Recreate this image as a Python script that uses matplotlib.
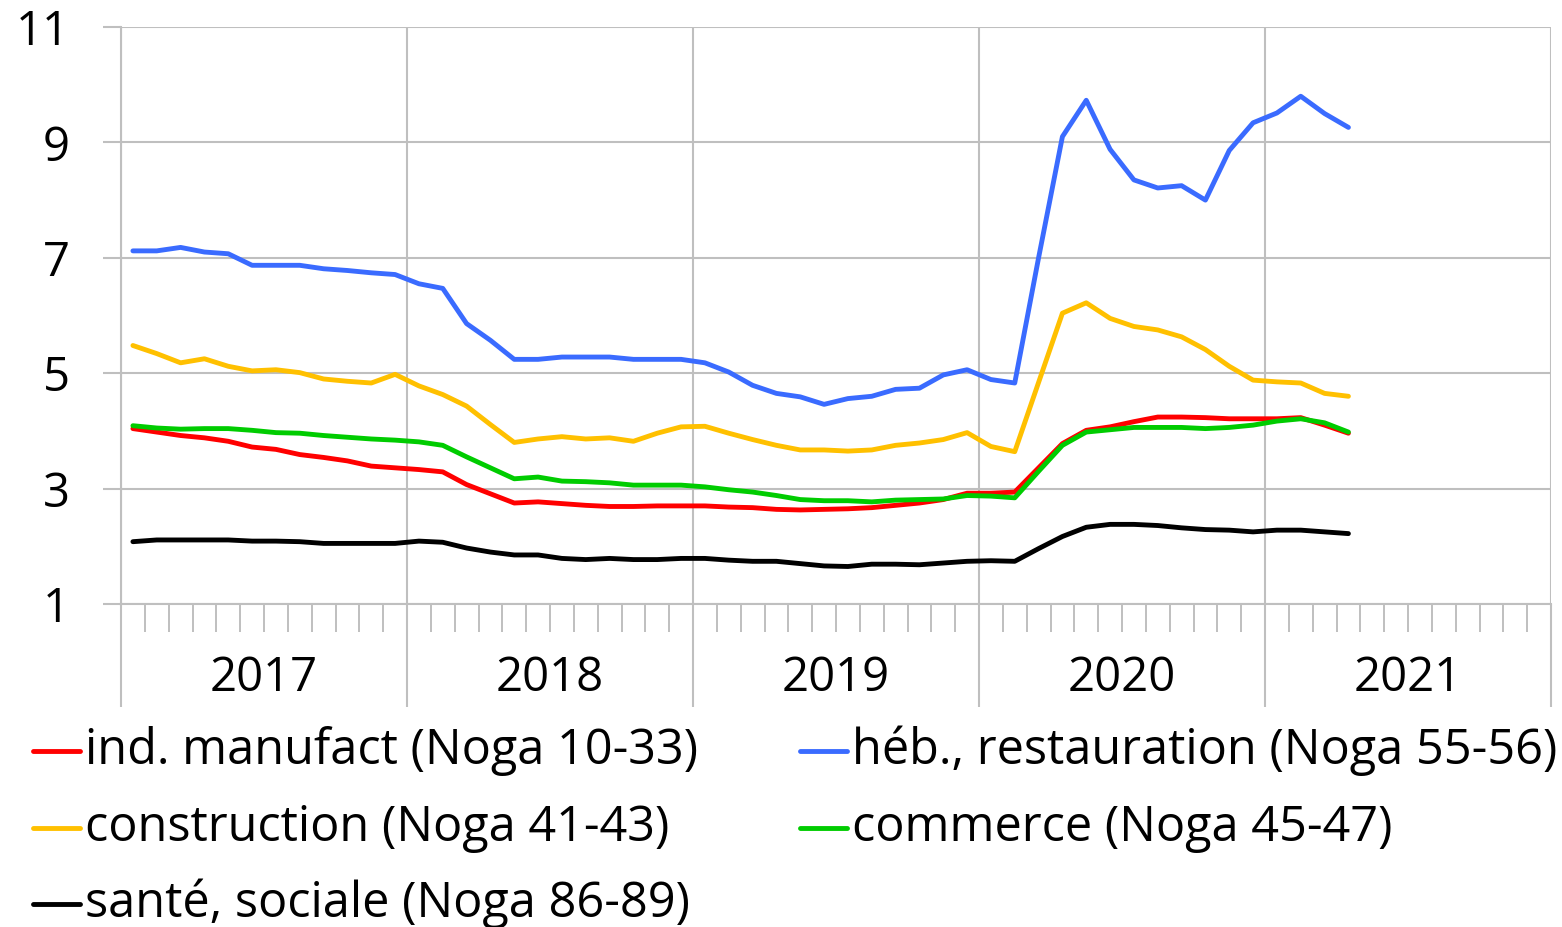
import numpy as np
import matplotlib
matplotlib.use("Agg")
import matplotlib.pyplot as plt
from matplotlib.lines import Line2D
from matplotlib.ticker import MultipleLocator, FixedLocator

plt.rcParams['font.family'] = ['Open Sans', 'DejaVu Sans']

years = ["2017", "2018", "2019", "2020", "2021"]
yticks = [1, 3, 5, 7, 9, 11]

manufact = [4.04, 3.98, 3.92, 3.88, 3.82, 3.72, 3.68, 3.59, 3.54, 3.48, 3.39, 3.36,
            3.33, 3.29, 3.07, 2.91, 2.75, 2.77, 2.74, 2.71, 2.69, 2.69, 2.70, 2.70,
            2.70, 2.68, 2.67, 2.64, 2.63, 2.64, 2.65, 2.67, 2.71, 2.75, 2.81, 2.92,
            2.92, 2.94, 3.36, 3.78, 4.01, 4.07, 4.16, 4.24, 4.24, 4.23, 4.21, 4.21,
            4.21, 4.23, 4.10, 3.96]
hebergement = [7.12, 7.12, 7.18, 7.10, 7.07, 6.87, 6.87, 6.87, 6.81, 6.78, 6.74, 6.71,
               6.55, 6.47, 5.86, 5.57, 5.24, 5.24, 5.28, 5.28, 5.28, 5.24, 5.24, 5.24,
               5.18, 5.02, 4.79, 4.65, 4.59, 4.46, 4.56, 4.60, 4.72, 4.74, 4.97, 5.06,
               4.89, 4.83, 7.00, 9.10, 9.73, 8.88, 8.35, 8.21, 8.25, 8.00, 8.86, 9.34,
               9.51, 9.80, 9.50, 9.26]
construction = [5.48, 5.34, 5.18, 5.25, 5.12, 5.04, 5.06, 5.01, 4.90, 4.86, 4.83, 4.98,
                4.78, 4.63, 4.43, 4.11, 3.80, 3.86, 3.90, 3.86, 3.88, 3.82, 3.96, 4.07,
                4.08, 3.96, 3.85, 3.75, 3.67, 3.67, 3.65, 3.67, 3.75, 3.79, 3.85, 3.97,
                3.73, 3.64, 4.84, 6.04, 6.22, 5.95, 5.81, 5.75, 5.63, 5.41, 5.12, 4.88,
                4.85, 4.83, 4.65, 4.60]
commerce = [4.09, 4.05, 4.03, 4.04, 4.04, 4.01, 3.97, 3.96, 3.92, 3.89, 3.86, 3.84,
            3.81, 3.75, 3.55, 3.36, 3.17, 3.20, 3.13, 3.12, 3.10, 3.06, 3.06, 3.06,
            3.03, 2.98, 2.94, 2.88, 2.81, 2.79, 2.79, 2.77, 2.80, 2.81, 2.82, 2.88,
            2.87, 2.84, 3.30, 3.75, 3.98, 4.02, 4.06, 4.06, 4.06, 4.04, 4.06, 4.10,
            4.17, 4.21, 4.14, 3.98]
sante = [2.08, 2.11, 2.11, 2.11, 2.11, 2.09, 2.09, 2.08, 2.05, 2.05, 2.05, 2.05,
         2.09, 2.07, 1.97, 1.90, 1.85, 1.85, 1.79, 1.77, 1.79, 1.77, 1.77, 1.79,
         1.79, 1.76, 1.74, 1.74, 1.70, 1.66, 1.65, 1.69, 1.69, 1.68, 1.71, 1.74,
         1.75, 1.74, 1.96, 2.17, 2.33, 2.38, 2.38, 2.36, 2.32, 2.29, 2.28, 2.25,
         2.28, 2.28, 2.25, 2.22]

labels = ["ind. manufact (Noga 10-33)", "héb., restauration (Noga 55-56)",
          "construction (Noga 41-43)", "commerce (Noga 45-47)",
          "santé, sociale (Noga 86-89)"]
colors = ["#FF0000", "#3A6BFF", "#FFC000", "#00CC00", "#000000"]
series = [manufact, hebergement, construction, commerce, sante]

W, H = 1562, 927
fig = plt.figure(figsize=(W / 100, H / 100), dpi=100)
L, R, T, B = 121, 1551, 27, 604
ax = fig.add_axes([L / W, 1 - B / H, (R - L) / W, (B - T) / H])

grid_c = "#BFBFBF"
FS = 34
FS_LEG = 35
x = np.arange(len(manufact)) + 0.5
for s, c in zip(series, colors):
    ax.plot(x, s, color=c, lw=3.5, solid_capstyle='round', solid_joinstyle='round', zorder=3)

ax.set_xlim(0, 60)
ax.set_ylim(1, 11)
ax.yaxis.set_major_locator(FixedLocator(yticks))
ax.xaxis.set_major_locator(MultipleLocator(12))
ax.xaxis.set_minor_locator(MultipleLocator(1))
ax.grid(True, which='major', color=grid_c, lw=1.5, zorder=0)
for sp in ['top', 'right']:
    ax.spines[sp].set_visible(False)
for sp in ['left', 'bottom']:
    ax.spines[sp].set_color(grid_c)
    ax.spines[sp].set_linewidth(1.5)
    ax.spines[sp].set_zorder(1)

ax.tick_params(axis='x', which='major', length=74, width=1.5, color=grid_c, labelbottom=False)
ax.tick_params(axis='x', which='minor', length=20, width=1.4, color=grid_c)
ax.tick_params(axis='y', which='major', length=13, width=1.5, color=grid_c,
               labelsize=FS, pad=24)
ax.set_yticklabels([str(v) for v in yticks])

for i, yr in enumerate(years):
    ax.text(6 + 12 * i, (B - 678) / (B - T), yr, transform=ax.get_xaxis_transform(),
            ha='center', va='center', fontsize=FS)

# legend (manual, 2 columns)
pos = [(33, 751), (800, 751), (33, 828), (800, 828), (33, 904)]
for (px, py), lab, c in zip(pos, labels, colors):
    fig.add_artist(Line2D([px / W, (px + 47) / W], [1 - py / H, 1 - py / H],
                          color=c, lw=3.5, solid_capstyle='round', transform=fig.transFigure))
    fig.text((px + 52) / W, 1 - py / H, lab, ha='left', va='center', fontsize=FS_LEG)

fig.savefig("out.png", dpi=100)
